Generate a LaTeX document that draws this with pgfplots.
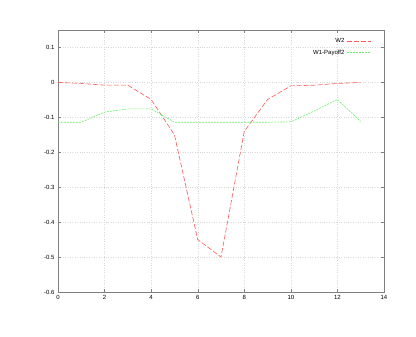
\documentclass[border=0pt]{standalone}
\usepackage{pgfplots}
\pgfplotsset{compat=1.18}
\usepackage{fontspec}
\setmainfont{Liberation Sans}
\definecolor{redline}{RGB}{255,90,90}
\definecolor{greenline}{RGB}{110,240,110}
\begin{document}
\begin{tikzpicture}
\begin{axis}[
    scale only axis,
    width=326pt,
    height=262pt,
    xmin=0, xmax=14,
    ymin=-0.6, ymax=0.15,
    xtick={0,2,...,14},
    ytick={-0.6,-0.5,-0.4,-0.3,-0.2,-0.1,0,0.1},
    yticklabels={-0.6,-0.5,-0.4,-0.3,-0.2,-0.1,0,0.1},
    tick align=inside,
    tick style={gray, thin},
    major tick length=3pt,
    axis line style={gray},
    grid=major,
    grid style={dotted, gray!30},
    tick label style={font=\fontsize{6}{7}\selectfont},
    /pgf/number format/assume math mode=true,
    legend style={at={(0.97,0.985)}, anchor=north east, draw=none, fill=none,
        font=\fontsize{6}{7}\selectfont, row sep=2pt},
    legend cell align=right,
    legend plot pos=right,
    legend image code/.code={\draw[#1] (0pt,0pt) -- (24pt,0pt);},
]
\addplot[redline, dash pattern=on 5pt off 2pt, semithick] coordinates {
    (0,0) (1,-0.003) (2,-0.008) (3,-0.008) (4,-0.049) (5,-0.15)
    (6,-0.45) (7,-0.5) (8,-0.14) (9,-0.049) (10,-0.01) (11,-0.008)
    (12,-0.003) (13,0)
};
\addplot[greenline, dash pattern=on 2pt off 1pt, semithick] coordinates {
    (0,-0.114) (1,-0.114) (2,-0.085) (3,-0.076) (4,-0.076) (5,-0.114)
    (6,-0.114) (7,-0.114) (8,-0.114) (9,-0.114) (10,-0.113) (11,-0.082)
    (12,-0.049) (13,-0.112)
};
\legend{W2, W1-Payoff2}
\end{axis}
\path ([xshift=-58pt,yshift=-45pt]current axis.south west)
    rectangle ([xshift=32pt,yshift=30pt]current axis.north east);
\end{tikzpicture}
\end{document}
